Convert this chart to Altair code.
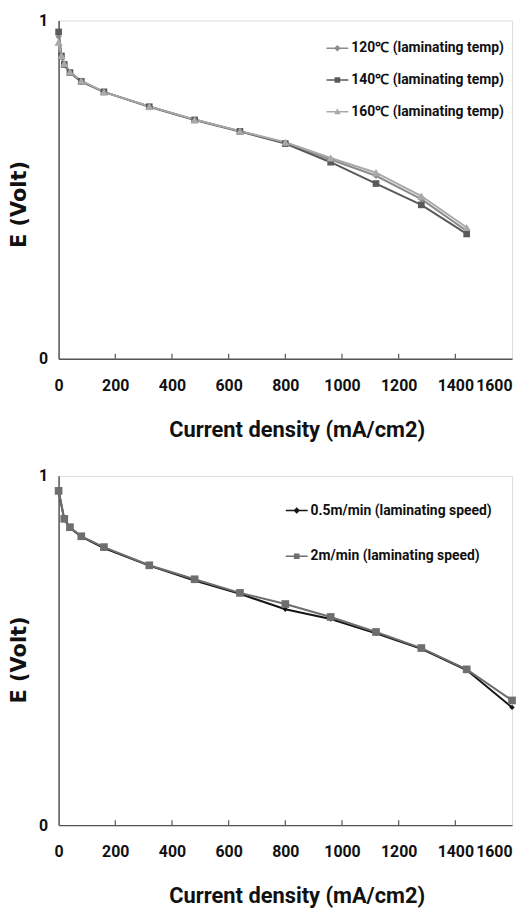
import altair as alt
import pandas as pd

# ---------------- data ----------------
x_top = [0, 10, 20, 40, 80, 160, 320, 480, 640, 800, 960, 1120, 1280, 1440]
v_120 = [0.952, 0.893, 0.868, 0.845, 0.819, 0.788, 0.746, 0.707, 0.673, 0.638, 0.589, 0.541, 0.472, 0.378]
v_140 = [0.966, 0.895, 0.870, 0.846, 0.820, 0.789, 0.745, 0.706, 0.672, 0.636, 0.581, 0.518, 0.455, 0.369]
v_160 = [0.936, 0.897, 0.873, 0.848, 0.822, 0.789, 0.746, 0.707, 0.673, 0.640, 0.594, 0.550, 0.481, 0.388]
top_series = ["120℃ (laminating temp)", "140℃ (laminating temp)", "160℃ (laminating temp)"]

x_bot = [0, 20, 40, 80, 160, 320, 480, 640, 800, 960, 1120, 1280, 1440, 1600]
v_05 = [0.957, 0.875, 0.851, 0.826, 0.793, 0.743, 0.700, 0.662, 0.618, 0.590, 0.549, 0.505, 0.444, 0.337]
v_2 = [0.957, 0.877, 0.853, 0.827, 0.796, 0.744, 0.704, 0.665, 0.633, 0.596, 0.553, 0.507, 0.446, 0.357]
bot_series = ["0.5m/min (laminating speed)", "2m/min (laminating speed)"]

x_tick_values = [0, 200, 400, 600, 800, 1000, 1200, 1400, 1600]
inner_ticks = [200, 400, 600, 800, 1000, 1200, 1400]
y_tick_values = [0, 1]

x_title = "Current density (mA/cm2)"
y_title = "E (Volt)"

# ---------------- styling ----------------
NARROW = "Roboto, Liberation Sans, sans-serif"
WIDE = "DejaVu Sans, Verdana, sans-serif"
top_colors = ["#8c8c8c", "#5a5a5a", "#a9a9a9"]
top_shapes = ["diamond", "square", "triangle-up"]
top_sizes = [40, 45, 70]
bot_colors = ["#151515", "#6e6e6e"]
bot_shapes = ["diamond", "square"]
bot_sizes = [28, 60]

LINE = "M-1,-0.07H1V0.07H-1Z"
leg_paths = {
    "diamond": LINE + "M0,-0.3L0.3,0L0,0.3L-0.3,0Z",
    "square": LINE + "M-0.26,-0.26H0.26V0.26H-0.26Z",
    "triangle-up": LINE + "M0,-0.32L0.3,0.24L-0.3,0.24Z",
}

PLOT_W = 457


def panel(xs, series_vals, names, colors, shapes, sizes, h, leg_x, leg_y, row_pad):
    rows = []
    for name, vals in zip(names, series_vals):
        for x, v in zip(xs, vals):
            rows.append({"series": name, "x": x, "v": v})
    df = pd.DataFrame(rows)
    ticks_df = pd.DataFrame({"x": inner_ticks})

    x_enc = alt.X(
        "x:Q",
        scale=alt.Scale(domain=[0, 1600], nice=False, zero=False),
        axis=alt.Axis(
            values=x_tick_values, format="d", title=x_title, ticks=False, grid=False,
            labelFont=NARROW, labelFontSize=16, labelFontWeight="bold", labelColor="#111",
            labelPadding=19, labelOverlap=False, labelFlush=False,
            labelAlign={"condition": {"test": "datum.value == 1600", "value": "right"}, "value": "center"},
            domainColor="#555", domainWidth=1.5,
            titleFont=NARROW, titleFontSize=22, titleFontWeight="bold", titleColor="#111",
            titlePadding=26, titleX=240,
        ),
    )
    y_enc = alt.Y(
        "v:Q",
        scale=alt.Scale(domain=[0, 1], nice=False),
        axis=alt.Axis(
            values=y_tick_values, format="d", title=y_title, ticks=False, grid=False,
            labelFont=NARROW, labelFontSize=16, labelFontWeight="bold", labelColor="#111",
            labelPadding=11, domainColor="#555", domainWidth=1.5,
            titleFont=WIDE, titleFontSize=21, titleFontWeight="bold", titleColor="#111",
            titlePadding=9, titleY=185,
        ),
    )

    base = alt.Chart(df)
    layers = []
    for name, col in zip(names, colors):
        layers.append(
            base.transform_filter(alt.datum.series == name)
            .mark_line(strokeWidth=2, color=col)
            .encode(x=x_enc, y=y_enc)
        )
    for name, col, shp, sz in zip(names, colors, shapes, sizes):
        layers.append(
            base.transform_filter(alt.datum.series == name)
            .mark_point(filled=True, opacity=1, shape=shp, size=sz, color=col)
            .encode(x=x_enc, y=y_enc)
        )
    leg = alt.Legend(
        title=None, orient="none", legendX=leg_x, legendY=leg_y, padding=0,
        symbolSize=484, symbolStrokeWidth=0, symbolOpacity=1, rowPadding=row_pad,
        labelFont=NARROW, labelFontSize=14, labelFontWeight="bold", labelColor="#111",
        labelOffset=3, labelLimit=400,
    )
    legend_layer = (
        base.mark_point(filled=True, opacity=0)
        .encode(
            x=x_enc, y=y_enc,
            fill=alt.Fill("series:N", scale=alt.Scale(domain=names, range=colors), legend=leg),
            shape=alt.Shape("series:N", scale=alt.Scale(domain=names, range=[leg_paths[s] for s in shapes]), legend=leg),
        )
    )
    layers.append(legend_layer)
    tick_layer = alt.Chart(ticks_df).mark_rule(color="#555", strokeWidth=1.2).encode(
        x=x_enc, y=alt.value(h), y2=alt.value(h - 5)
    )
    layers.append(tick_layer)
    return alt.layer(*layers).properties(width=PLOT_W, height=h)


top = panel(x_top, [v_120, v_140, v_160], top_series, top_colors, top_shapes, top_sizes,
            341, 270, 17, 14)
bottom = panel(x_bot, [v_05, v_2], bot_series, bot_colors, bot_shapes, bot_sizes,
               352, 229, 24, 28)

chart = (
    alt.vconcat(top, bottom, spacing=26)
    .resolve_scale(fill="independent", shape="independent")
    .resolve_legend(fill="independent", shape="independent")
    .properties(padding={"left": 0, "top": 0, "right": 0, "bottom": 0})
    .configure_view(stroke="#8a8a8a", strokeWidth=1)
    .configure(background="white")
)

chart.save("out.html", embed_options={"renderer": "svg", "actions": False})
